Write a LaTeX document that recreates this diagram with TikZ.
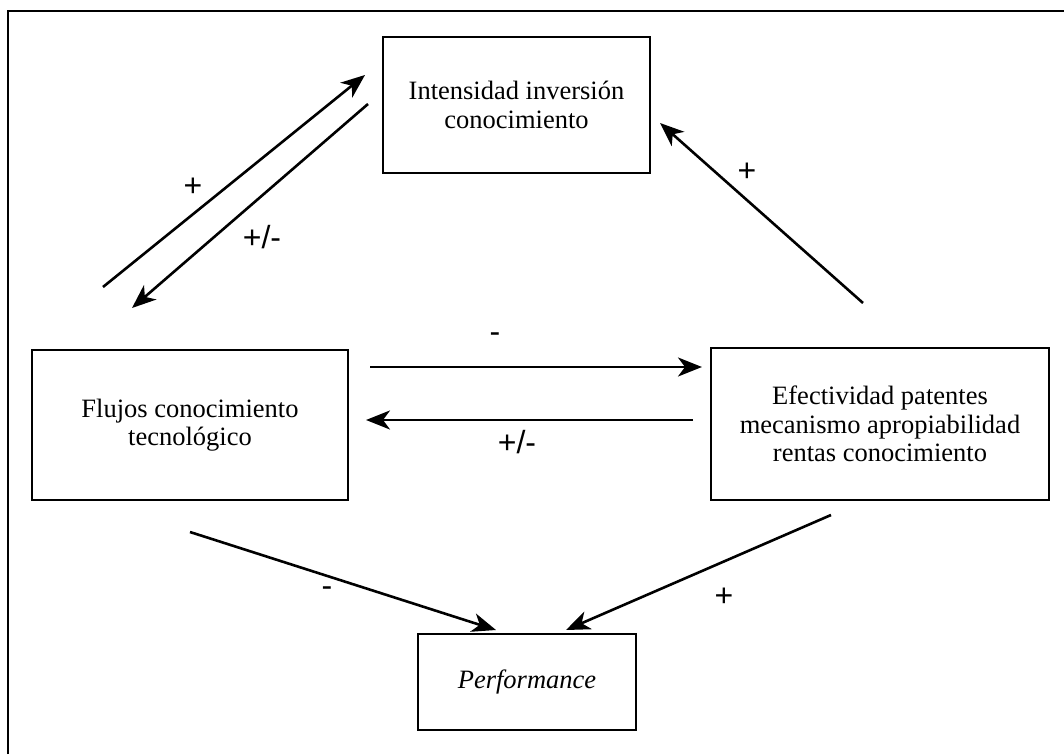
\documentclass[tikz,border=0pt]{standalone}
\usepackage{fontspec}
\setmainfont{Liberation Serif}
\newfontfamily\signfont{Liberation Sans}
\usetikzlibrary{arrows.meta}
\begin{document}
\begin{tikzpicture}[x=1pt,y=-1pt,
  box/.style={draw,line width=2.6pt,align=center,inner sep=0pt,
    font=\fontsize{26.5}{28.5}\selectfont},
  link/.style={line width=2.6pt,-{Stealth[length=24pt,width=19pt,inset=7pt]}},
  sign/.style={font=\signfont\fontsize{32}{34}\selectfont,inner sep=0pt}]
\useasboundingbox (0,0) rectangle (1064,754);
% frame (top and left sides)
\draw[line width=2.8pt] (8,754) -- (8,11) -- (1064,11);
% boxes
\node[box,minimum width=267pt,minimum height=136pt] (inv) at (516.5,105)
  {Intensidad inversión\\conocimiento};
\node[box,minimum width=316pt,minimum height=150pt] (flu) at (190,425)
  {Flujos conocimiento\\tecnológico};
\node[box,minimum width=338pt,minimum height=152pt] (pat) at (880,424)
  {Efectividad patentes\\mecanismo apropiabilidad\\rentas conocimiento};
\node[box,minimum width=218pt,minimum height=96pt] (per) at (527,682)
  {\itshape Performance};
% connector end points
\coordinate (a1) at (103,287); \coordinate (a2) at (365,75);
\coordinate (b1) at (368,104); \coordinate (b2) at (132,308);
\coordinate (c1) at (863,303); \coordinate (c2) at (660,123);
\coordinate (d1) at (370,367); \coordinate (d2) at (702,367);
\coordinate (e1) at (693,420); \coordinate (e2) at (366,420);
\coordinate (f1) at (190,532); \coordinate (f2) at (496,630);
\coordinate (g1) at (831,515); \coordinate (g2) at (566,630);
% connectors
\draw[link] (a1) -- (a2);
\draw[link] (b1) -- (b2);
\draw[link] (c1) -- (c2);
\draw[link] (d1) -- (d2);
\draw[link] (e1) -- (e2);
\draw[link] (f1) -- (f2);
\draw[link] (g1) -- (g2);
% signs
\node[sign] (s1) at (193,187) {+};
\node[sign] (s2) at (262,237) {+/-};
\node[sign] (s3) at (747,172) {+};
\node[sign] (s4) at (495,338) {-};
\node[sign] (s5) at (517,442) {+/-};
\node[sign] (s6) at (327,592) {-};
\node[sign] (s7) at (724,597) {+};
\end{tikzpicture}
\end{document}
